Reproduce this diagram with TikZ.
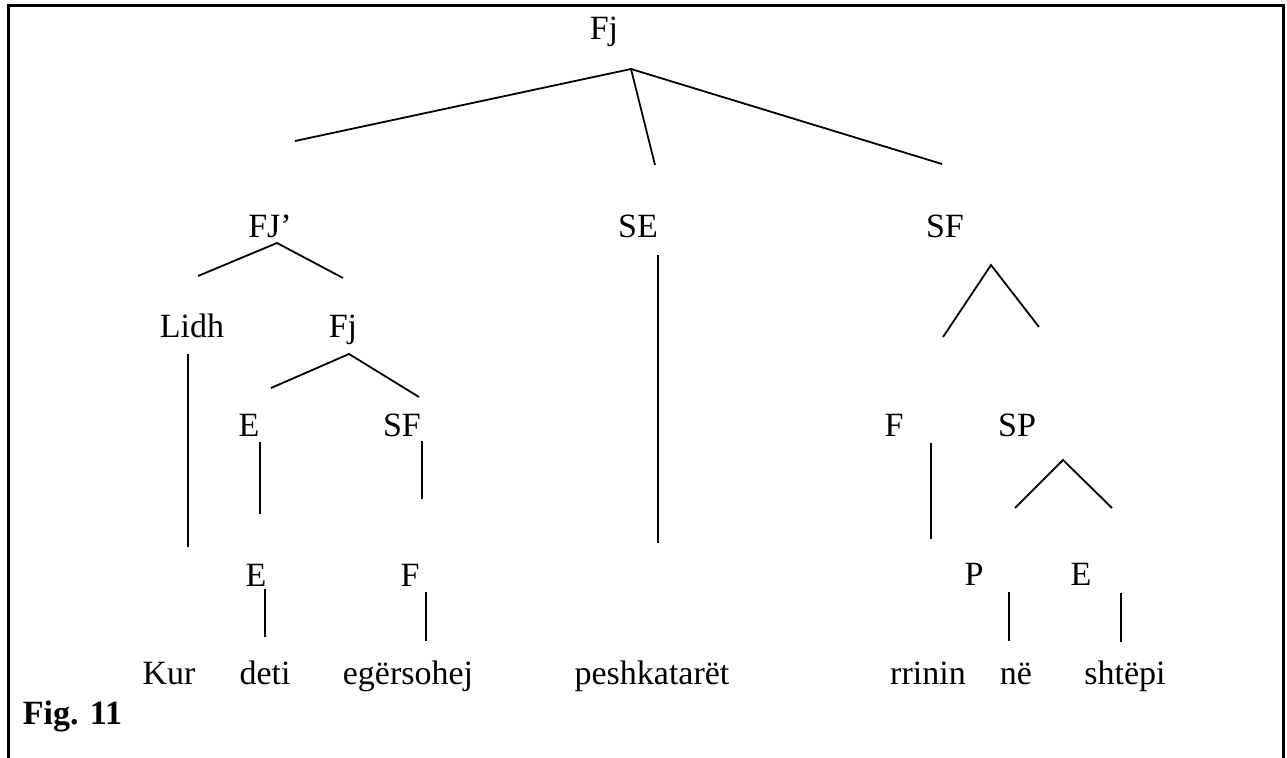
\documentclass[tikz,border=0pt]{standalone}
\usepackage{fontspec}
\setmainfont{Liberation Serif}

\begin{document}
\begin{tikzpicture} [x=0.5pt, y=-0.5pt, line width=0.9pt,
  lbl/.style={anchor=base, inner sep=0pt, font=\fontsize{17}{20}\selectfont}]
\useasboundingbox (0,0) rectangle (1287,758);
% open frame
\coordinate (BL) at (8,758);
\coordinate (TL) at (8,5.5);
\coordinate (TR) at (1283,5.5);
\coordinate (BR) at (1283,758);
\draw[line width=1.5pt] (BL)--(TL)--(TR)--(BR);

% labels
\node[lbl] (fj)   at (604,40)  {Fj};
\node[lbl] (fjp)  at (270,238) {FJ’};
\node[lbl] (se)   at (638,238) {SE};
\node[lbl] (sf)   at (945,238) {SF};
\node[lbl] (lidh) at (192,338) {Lidh};
\node[lbl] (fj2)  at (343,338) {Fj};
\node[lbl] (e1)   at (249,437) {E};
\node[lbl] (sf2)  at (402,437) {SF};
\node[lbl] (f1)   at (894,437) {F};
\node[lbl] (sp)   at (1017,437) {SP};
\node[lbl] (e2)   at (256,587) {E};
\node[lbl] (f2)   at (410,587) {F};
\node[lbl] (p)    at (974,586) {P};
\node[lbl] (e3)   at (1081,586) {E};
% words
\node[lbl] (kur)  at (169,685)  {Kur};
\node[lbl] (deti) at (265,685)  {deti};
\node[lbl] (eg)   at (408,685)  {egërsohej};
\node[lbl] (pesh) at (652,685)  {peshkatarët};
\node[lbl] (rri)  at (928,685)  {rrinin};
\node[lbl] (ne)   at (1016,685) {në};
\node[lbl] (sht)  at (1125,685) {shtëpi};
\node[lbl, anchor=base west] (fig) at (22,725) {\bfseries Fig. 11};

% branching lines
\coordinate (r0) at (631,69);
\coordinate (r1) at (295,141);
\coordinate (r2) at (655,165);
\coordinate (r3) at (942,164);
\draw (r1)--(r0)--(r2);
\draw (r0)--(r3);
\foreach \n/\ax/\ay/\lx/\ly/\rx/\ry in {
  fjp/277/243/198/276/343/278,
  sf/991/265/943/337/1039/327,
  fjb/349/354/271/388/419/397,
  sp/1063/460/1015/508/1112/508} {
 \coordinate (\n-top) at (\ax,\ay);
 \coordinate (\n-l) at (\lx,\ly);
 \coordinate (\n-r) at (\rx,\ry);
 \draw (\n-l)--(\n-top)--(\n-r);
}
% unary stems
\foreach \n/\x/\a/\b in {
  se/658/255/543, lidh/188/354/547, e1/260/442/514, sf2/422/441/499,
  f1/931/443/539, e2/265/589/637, f2/426/592/641, p/1009/592/641,
  e3/1121/593/642} {
 \coordinate (\n-a) at (\x,\a);
 \coordinate (\n-b) at (\x,\b);
 \draw (\n-a)--(\n-b);
}
\end{tikzpicture}
\end{document}
